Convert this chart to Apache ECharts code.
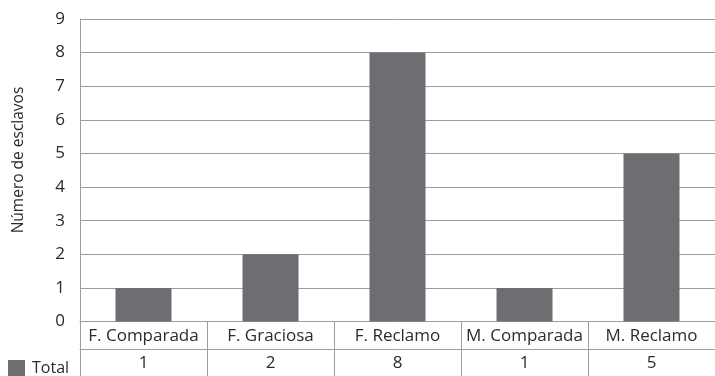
<!DOCTYPE html>
<html>
<head>
<meta charset="utf-8">
<script src="https://cdn.jsdelivr.net/npm/echarts@6/dist/echarts.min.js"></script>
<style>html,body{margin:0;padding:0;background:#fff}#c{width:715px;height:376px}</style>
</head>
<body>
<div id="c"></div>
<script>
var categories = ['F. Comparada', 'F. Graciosa', 'F. Reclamo', 'M. Comparada', 'M. Reclamo'];
var totals = [1, 2, 8, 1, 5];
var yTicks = [0, 1, 2, 3, 4, 5, 6, 7, 8, 9];
var seriesName = 'Total';
var yAxisTitle = 'Número de esclavos';

var FONT = 'Open Sans';
var TXT = '#2b2b2b';
var LINE = '#9d9d9d';
var chart = echarts.init(document.getElementById('c'));
chart.setOption({
  animation: false,
  textStyle: {fontFamily: FONT},
  grid: {left: 80, top: 19, width: 638, height: 302.5, containLabel: false},
  legend: {
    data: [seriesName], left: 3, top: 355, icon: 'rect', itemWidth: 17, itemHeight: 17,
    itemGap: 6, textStyle: {fontFamily: FONT, fontSize: 16, color: TXT, padding: [0, 0, 0, 2]}
  },
  graphic: [{
    type: 'text',
    rotation: Math.PI / 2, x: 19, y: 160,
    style: {text: yAxisTitle, font: '15.5px "' + FONT + '"', fill: TXT, align: 'center', verticalAlign: 'middle'}
  }],
  xAxis: [{
    type: 'category', data: categories, position: 'bottom',
    axisLine: {show: true, lineStyle: {color: LINE, width: 1}},
    axisTick: {show: true, length: 55, interval: 0, lineStyle: {color: LINE}},
    axisLabel: {margin: 6, fontSize: 17, color: TXT, fontFamily: FONT, interval: 0},
    splitLine: {show: false}
  }, {
    type: 'category', data: totals.map(String), position: 'bottom', offset: 28,
    axisLine: {show: true, lineStyle: {color: LINE, width: 1}},
    axisTick: {show: false},
    axisLabel: {margin: 5, fontSize: 17, color: TXT, fontFamily: FONT, interval: 0}
  }],
  yAxis: {
    type: 'value', min: yTicks[0], max: yTicks[yTicks.length - 1], interval: 1,
    axisLine: {show: true, lineStyle: {color: LINE}},
    axisTick: {show: false},
    axisLabel: {margin: 15, fontSize: 17, color: TXT, fontFamily: FONT},
    splitLine: {show: true, lineStyle: {color: LINE, width: 1}}
  },
  series: [{
    name: seriesName, type: 'bar', data: totals, xAxisIndex: 0,
    barWidth: 56, itemStyle: {color: '#6d6e72'}
  }]
});
</script>
</body>
</html>
